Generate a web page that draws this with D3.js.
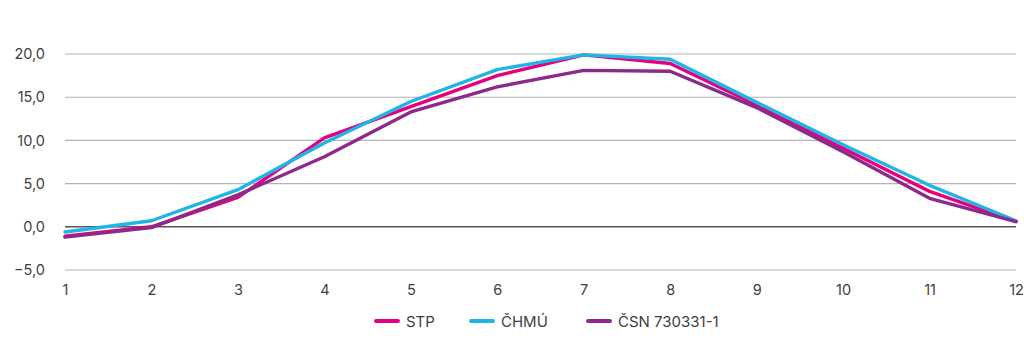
<!DOCTYPE html>
<html>
<head>
<meta charset="utf-8">
<script src="https://cdn.jsdelivr.net/npm/d3@7"></script>
<style>
  html, body { margin: 0; padding: 0; background: #fff; }
  svg { display: block; }
  text { font-family: Inter, "Noto Sans", sans-serif; fill: #404040; }
</style>
</head>
<body>
<svg id="chart" width="1024" height="341"></svg>
<script>
// Monthly mean temperatures (°C) by source
const months = [1, 2, 3, 4, 5, 6, 7, 8, 9, 10, 11, 12];
const stp   = [-1.1, 0.0, 3.4, 10.3, 13.9, 17.5, 19.9, 18.9, 14.1, 9.1, 4.1, 0.6];
const chmu  = [-0.6, 0.7, 4.3, 9.7, 14.5, 18.2, 19.9, 19.4, 14.4, 9.5, 4.8, 0.7];
const csn   = [-1.2, -0.1, 3.7, 8.1, 13.3, 16.2, 18.1, 18.0, 13.8, 8.7, 3.3, 0.6];
const yTicks = [-5, 0, 5, 10, 15, 20];

const seriesNames  = ["STP", "ČHMÚ", "ČSN 730331-1"];
const seriesValues = [stp, chmu, csn];
const colors = ["#e5007d", "#1fb5e6", "#8c2a8c"];

const svg = d3.select("#chart");
const plotLeft = 65, plotRight = 1016, plotTop = 54, plotBottom = 270;

const x = d3.scaleLinear().domain([1, 12]).range([plotLeft, plotRight]);
const y = d3.scaleLinear().domain([-5, 20]).range([plotBottom, plotTop]);
const fmt = v => d3.format(".1f")(v).replace(".", ",");

// horizontal gridlines (zero line darker)
svg.append("g")
  .selectAll("line")
  .data(yTicks)
  .join("line")
  .attr("x1", plotLeft).attr("x2", plotRight)
  .attr("y1", d => y(d)).attr("y2", d => y(d))
  .attr("stroke", d => d === 0 ? "#555" : "#b4b4b4")
  .attr("stroke-width", d => d === 0 ? 1.6 : 1.1);

// y axis labels
const yAxis = d3.axisLeft(y).tickValues(yTicks).tickFormat(fmt).tickSize(0).tickPadding(0);
const gy = svg.append("g").attr("transform", "translate(45,0)").call(yAxis);
gy.select(".domain").remove();
gy.selectAll("text").attr("font-size", 14.5).attr("fill", "#404040")
  .style("font-family", "Inter, 'Noto Sans', sans-serif");

// x axis labels
const xAxis = d3.axisBottom(x).tickValues(months).tickFormat(d3.format("d")).tickSize(0).tickPadding(0);
const gx = svg.append("g").attr("transform", "translate(0,285)").call(xAxis);
gx.select(".domain").remove();
gx.selectAll("text").attr("font-size", 14.5).attr("fill", "#404040")
  .style("font-family", "Inter, 'Noto Sans', sans-serif");

// series lines
const line = d3.line().x((d, i) => x(months[i])).y(d => y(d));
svg.append("g")
  .selectAll("path")
  .data(seriesValues)
  .join("path")
  .attr("d", line)
  .attr("fill", "none")
  .attr("stroke", (d, i) => colors[i])
  .attr("stroke-width", 3.4)
  .attr("stroke-linejoin", "round")
  .attr("stroke-linecap", "round");

// legend
const legendX = [376, 471, 588];
const lg = svg.append("g")
  .selectAll("g")
  .data(seriesNames)
  .join("g")
  .attr("transform", (d, i) => `translate(${legendX[i]},321)`);
lg.append("line")
  .attr("x1", 0).attr("x2", 22).attr("y1", 0).attr("y2", 0)
  .attr("stroke", (d, i) => colors[i])
  .attr("stroke-width", 4)
  .attr("stroke-linecap", "round");
lg.append("text")
  .attr("x", 30).attr("y", 5.5)
  .attr("font-size", 15)
  .text(d => d);
</script>
</body>
</html>
